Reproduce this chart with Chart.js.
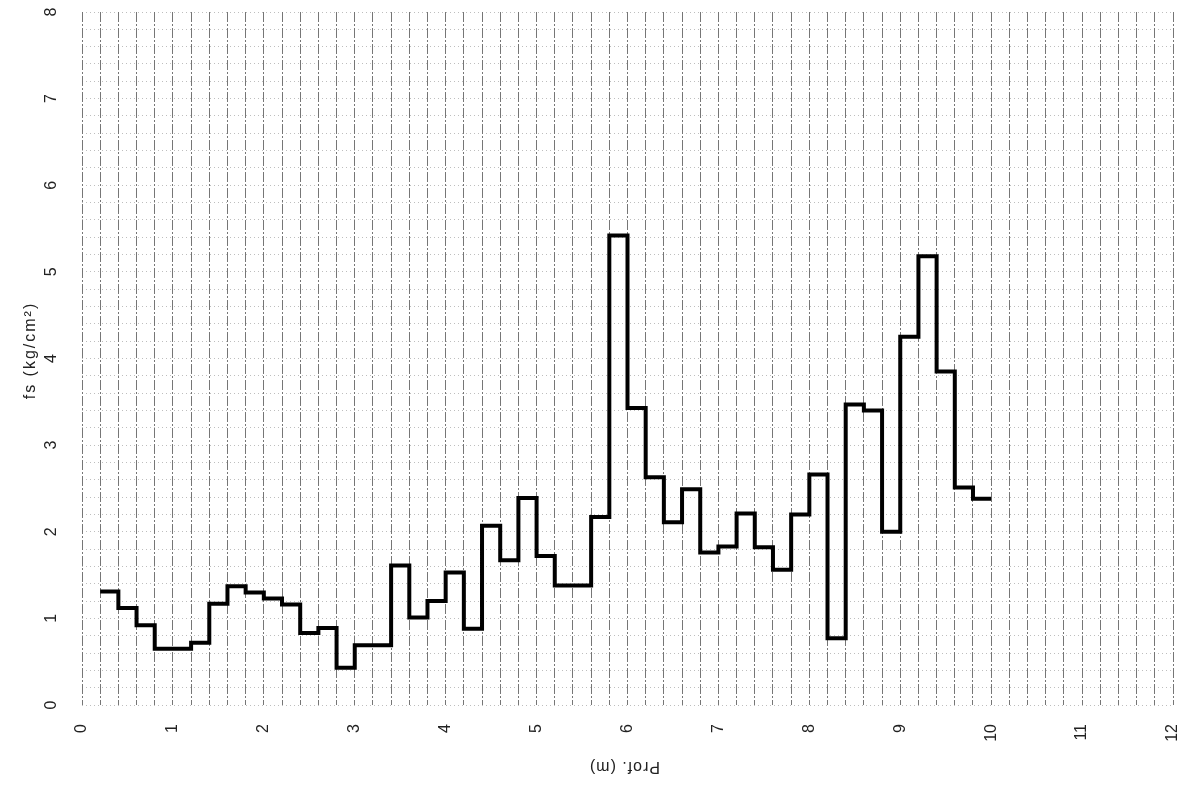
<!DOCTYPE html>
<html>
<head>
<meta charset="utf-8">
<script src="https://cdn.jsdelivr.net/npm/chart.js@4.4.1/dist/chart.umd.min.js"></script>
<style>
  html, body { margin: 0; padding: 0; background: #fff; }
  #wrap { width: 1186px; height: 785px; }
</style>
</head>
<body>
<div id="wrap"><canvas id="fsChart" width="1186" height="785"></canvas></div>
<script>
// depth (m) at the top of each 20 cm reading
const depthTops = [
  0.2, 0.4, 0.6, 0.8, 1.0, 1.2, 1.4, 1.6, 1.8, 2.0,
  2.2, 2.4, 2.6, 2.8, 3.0, 3.2, 3.4, 3.6, 3.8, 4.0,
  4.2, 4.4, 4.6, 4.8, 5.0, 5.2, 5.4, 5.6, 5.8, 6.0,
  6.2, 6.4, 6.6, 6.8, 7.0, 7.2, 7.4, 7.6, 7.8, 8.0,
  8.2, 8.4, 8.6, 8.8, 9.0, 9.2, 9.4, 9.6, 9.8
];
// lateral friction fs (kg/cm2) for each reading
const fsValues = [
  1.31, 1.12, 0.92, 0.65, 0.65, 0.72, 1.17, 1.37, 1.30, 1.23,
  1.16, 0.83, 0.89, 0.43, 0.69, 0.69, 1.61, 1.01, 1.20, 1.53,
  0.88, 2.07, 1.67, 2.39, 1.72, 1.38, 1.38, 2.17, 5.42, 3.43,
  2.63, 2.11, 2.49, 1.76, 1.83, 2.21, 1.82, 1.56, 2.20, 2.66,
  0.77, 3.47, 3.40, 2.00, 4.25, 5.18, 3.85, 2.51, 2.38
];
const lastDepth = 10.0;

const xTickValues = [0, 1, 2, 3, 4, 5, 6, 7, 8, 9, 10, 11, 12];
const yTickValues = [0, 1, 2, 3, 4, 5, 6, 7, 8];
const xTitle = 'Prof. (m)';
const yTitle = 'fs (kg/cm²)';

// step points: each value holds from its depth to the next one
const points = depthTops.map((d, i) => ({ x: d, y: fsValues[i] }));
points.push({ x: lastDepth, y: fsValues[fsValues.length - 1] });

const FONT = '"Liberation Sans", Arial, sans-serif';

// labels are written rotated like the scanned sheet
const rotatedText = {
  id: 'rotatedText',
  afterDraw(chart) {
    const { ctx, scales: { x, y } } = chart;
    ctx.save();
    ctx.fillStyle = '#222';
    ctx.font = '16px ' + FONT;

    // x ticks, reading bottom to top, top end near the axis
    ctx.textAlign = 'right';
    ctx.textBaseline = 'middle';
    xTickValues.forEach(v => {
      ctx.save();
      ctx.translate(x.getPixelForValue(v), y.bottom + 19);
      ctx.rotate(-Math.PI / 2);
      ctx.fillText(String(v), 0, 0);
      ctx.restore();
    });

    // y ticks
    ctx.textAlign = 'center';
    yTickValues.forEach(v => {
      ctx.save();
      ctx.translate(x.left - 30, y.getPixelForValue(v));
      ctx.rotate(-Math.PI / 2);
      ctx.fillText(String(v), 0, 0);
      ctx.restore();
    });

    // y title
    ctx.font = '16px ' + FONT;
    ctx.letterSpacing = '2px';
    ctx.save();
    ctx.translate(x.left - 51, (y.top + y.bottom) / 2 - 8);
    ctx.rotate(-Math.PI / 2);
    ctx.fillText(yTitle, 0, 0);
    ctx.restore();

    // x title, upside down
    ctx.letterSpacing = '1px';
    ctx.font = '16px ' + FONT;
    ctx.save();
    ctx.translate((x.left + x.right) / 2 - 3, y.bottom + 61);
    ctx.rotate(Math.PI);
    ctx.fillText(xTitle, 0, 0);
    ctx.restore();

    ctx.restore();
  }
};

new Chart(document.getElementById('fsChart'), {
  type: 'line',
  data: {
    datasets: [{
      label: 'fs',
      data: points,
      stepped: 'before',
      borderColor: '#000',
      borderWidth: 4,
      borderJoinStyle: 'miter',
      borderCapStyle: 'butt',
      pointRadius: 0,
      fill: false
    }]
  },
  options: {
    responsive: false,
    animation: false,
    layout: {
      autoPadding: false,
      padding: { left: 82, right: 13, top: 12, bottom: 80 }
    },
    plugins: {
      legend: { display: false },
      tooltip: { enabled: false }
    },
    scales: {
      x: {
        type: 'linear',
        min: 0,
        max: 12,
        ticks: { display: false, stepSize: 0.2, autoSkip: false },
        grid: { color: 'rgba(60,60,60,0.7)', lineWidth: 1, drawTicks: false },
        border: { display: false, dash: [10, 2, 2, 2] }
      },
      y: {
        type: 'linear',
        min: 0,
        max: 8,
        ticks: { display: false, stepSize: 0.2, autoSkip: false },
        grid: { color: 'rgba(110,110,110,0.45)', lineWidth: 1, drawTicks: false },
        border: { display: false, dash: [1, 3] }
      }
    }
  },
  plugins: [rotatedText]
});
</script>
</body>
</html>
